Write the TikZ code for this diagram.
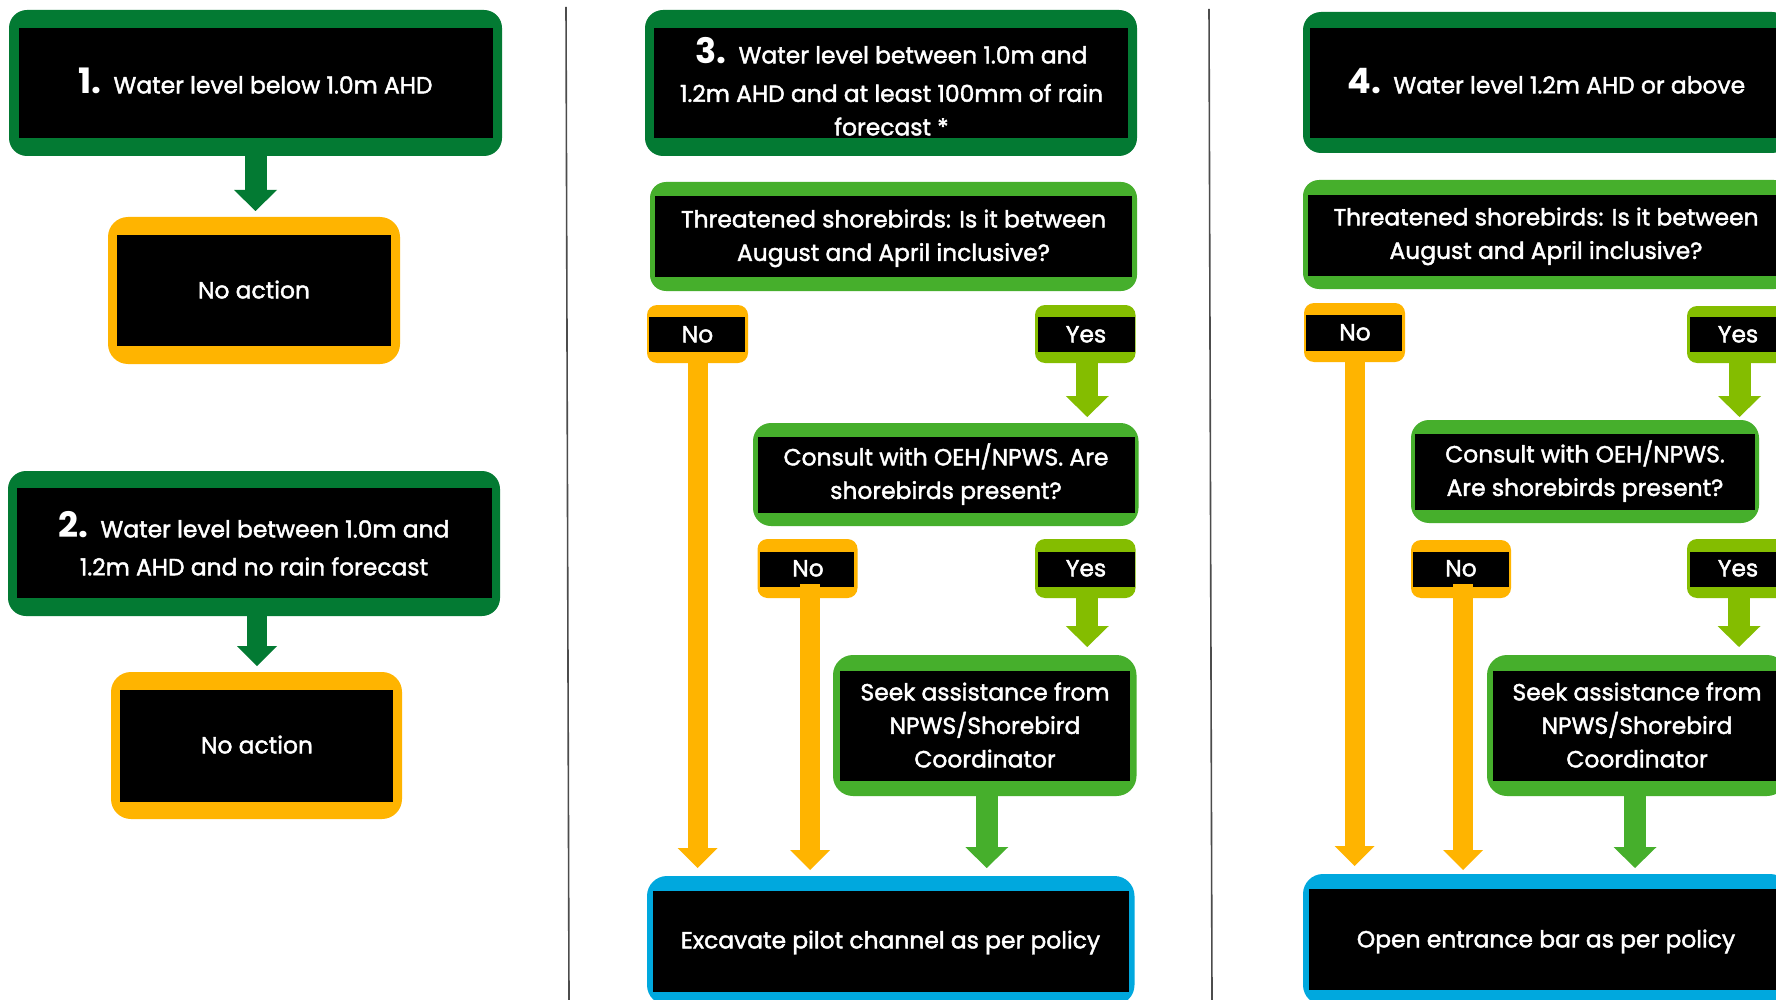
\documentclass[tikz,border=0pt]{standalone}
\usepackage{fontspec}
\setmainfont{Poppins}[UprightFeatures={FakeBold=1.8}]
\usetikzlibrary{arrows.meta,fit,calc}
\definecolor{dkgreen}{HTML}{037A33}
\definecolor{ltgreen}{HTML}{46AF2C}
\definecolor{yesgreen}{HTML}{84BD00}
\definecolor{noorange}{HTML}{FFB400}
\definecolor{endblue}{HTML}{00A8DE}
\newcommand\fl{\rule{0pt}{14pt}}
\newcommand\stepno[1]{{\fontsize{17.5pt}{17.5pt}\selectfont\bfseries #1}\hspace{6pt}}
\newcommand\cbox[5]{%
  \node[frame, fill=#2, rounded corners=#5, fit={#3}] (#1) {};
  \node[inbox, fit={#4}] (#1i) {};
}
\tikzset{
  frame/.style={inner sep=0pt, outer sep=0pt, draw=none},
  inbox/.style={inner sep=0pt, outer sep=0pt, draw=none, fill=black},
  txt/.style={anchor=north, text=white, inner sep=0pt, align=center,
    font=\fontsize{11.7pt}{16.75pt}\selectfont},
  flow/.style={draw=#1, line width=11pt,
    -{Triangle[length=10.5pt,width=21.5pt,line width=0pt]}},
  thinflow/.style={draw=#1, line width=10pt,
    -{Triangle[length=10pt,width=20pt,line width=0pt]}},
  divider/.style={draw=black!70, line width=0.8pt}
}
\begin{document}
\begin{tikzpicture}[x=0.5pt,y=-0.5pt]
\useasboundingbox (0,0) rectangle (1776,1000);
\clip (0,0) rectangle (1776,1000);
\fill[white] (0,0) rectangle (1776,1000);

% dividers
\draw[divider] (566,7) -- (569,1000);
\draw[divider] (1209,9) -- (1212,1000);

% ---------- column 1 ----------
\cbox{s1}{dkgreen}{(9,10) (502,156)}{(19,28) (493,138)}{9pt}
\node[txt] (s1t) at (255.5,65) {\fl\stepno{1.}Water level below 1.0m AHD};
\cbox{na1}{noorange}{(108,217) (400,364)}{(117,235) (391,346)}{10pt}
\node[txt] (na1t) at (254,270) {\fl No action};

\cbox{s2}{dkgreen}{(8,471) (500,616)}{(17,488) (492,598)}{9pt}
\node[txt] (s2t) at (254,509) {\fl\stepno{2.}Water level between 1.0m and\\[2.2pt]1.2m AHD and no rain forecast};
\cbox{na2}{noorange}{(111,672) (402,819)}{(120,690) (393,802)}{10pt}
\node[txt] (na2t) at (257,725) {\fl No action};

\draw[flow=dkgreen] (s1.south) -- ($(s1.south |- na1.north)+(0,-6)$);
\draw[thinflow=dkgreen] ($(s2.south)+(3,0)$) -- ($(s2.south |- na2.north)+(3,-6)$);

% ---------- column 2 ----------
\cbox{s3}{dkgreen}{(645,10) (1137,156)}{(654,28) (1128,138)}{9pt}
\node[txt] (s3t) at (891.5,35) {\fl\stepno{3.}Water level between 1.0m and\\[2.5pt]1.2m AHD and at least 100mm of rain\\forecast *};
\cbox{q3}{ltgreen}{(650,182) (1137,291)}{(655,196) (1132,277)}{8pt}
\node[txt] (q3t) at (893.5,199) {\fl Threatened shorebirds: Is it between\\August and April inclusive?};
\cbox{n3a}{noorange}{(647,305) (748,363)}{(649,317) (745,352)}{5pt}
\node[txt] (n3at) at (697.5,314) {\fl No};
\cbox{y3a}{yesgreen}{(1035,305) (1135.5,363)}{(1037.5,317) (1134.5,352)}{5pt}
\node[txt] (y3at) at (1086,314) {\fl Yes};
\cbox{c3}{ltgreen}{(753,423) (1138.5,526)}{(757.5,437) (1134.5,513)}{9pt}
\node[txt] (c3t) at (946,437) {\fl Consult with OEH/NPWS. Are\\shorebirds present?};
\cbox{n3b}{noorange}{(757.5,539) (857.5,598)}{(759.5,552) (853.5,587)}{5pt}
\node[txt] (n3bt) at (808,548) {\fl No};
\cbox{y3b}{yesgreen}{(1035,539) (1135.5,598)}{(1037.5,552) (1134.5,587)}{5pt}
\node[txt] (y3bt) at (1086,548) {\fl Yes};
\cbox{k3}{ltgreen}{(833,655) (1136.5,796)}{(840,671) (1129.5,781)}{10pt}
\node[txt] (k3t) at (985,672) {\fl Seek assistance from\\NPWS/Shorebird\\Coordinator};
\cbox{e3}{endblue}{(647,876) (1134.5,1005)}{(653,891) (1128.5,992)}{10pt}
\node[txt] (e3t) at (890.5,920) {\fl Excavate pilot channel as per policy};

\draw[flow=yesgreen] ($(y3a.south)+(2,0)$) -- ($(y3a.south |- c3.north)+(2,-6)$);
\draw[flow=yesgreen] ($(y3b.south)+(2,0)$) -- ($(y3b.south |- k3.north)+(2,-8)$);
\draw[thinflow=noorange] (n3a.south) -- ($(n3a.south |- e3.north)+(0,-8)$);
\draw[thinflow=noorange] ($(n3bi.south)+(3.5,-3)$) -- ($(n3bi.south |- e3.north)+(3.5,-6)$);
\draw[flow=ltgreen] ($(k3.south)+(2,0)$) -- ($(k3.south |- e3.north)+(2,-8)$);

% ---------- column 3 ----------
\cbox{s4}{dkgreen}{(1303,12) (1790,153)}{(1310,28) (1781,138)}{9pt}
\node[txt] (s4t) at (1546.5,65) {\fl\stepno{4.}Water level 1.2m AHD or above};
\cbox{q4}{ltgreen}{(1303,180) (1790,289)}{(1308,195) (1785,276)}{8pt}
\node[txt] (q4t) at (1546,197) {\fl Threatened shorebirds: Is it between\\August and April inclusive?};
\cbox{n4a}{noorange}{(1304,303) (1405,362)}{(1306,315) (1402,351)}{5pt}
\node[txt] (n4at) at (1355,312) {\fl No};
\cbox{y4a}{yesgreen}{(1687,306) (1789,363)}{(1690,317) (1786,352)}{5pt}
\node[txt] (y4at) at (1738,314) {\fl Yes};
\cbox{c4}{ltgreen}{(1411,420) (1759,523)}{(1415,434) (1755,510)}{9pt}
\node[txt] (c4t) at (1585,434) {\fl Consult with OEH/NPWS.\\Are shorebirds present?};
\cbox{n4b}{noorange}{(1411,540) (1511,598)}{(1413,552) (1509,587)}{5pt}
\node[txt] (n4bt) at (1461,548) {\fl No};
\cbox{y4b}{yesgreen}{(1687,539) (1789,598)}{(1690,552) (1786,587)}{5pt}
\node[txt] (y4bt) at (1738,548) {\fl Yes};
\cbox{k4}{ltgreen}{(1487,655) (1787,796)}{(1493,671) (1781,781)}{10pt}
\node[txt] (k4t) at (1637,672) {\fl Seek assistance from\\NPWS/Shorebird\\Coordinator};
\cbox{e4}{endblue}{(1303,874) (1790,1005)}{(1309,889) (1784,990)}{10pt}
\node[txt] (e4t) at (1546,919) {\fl Open entrance bar as per policy};

\draw[flow=yesgreen] ($(y4a.south)+(1.5,0)$) -- ($(y4a.south |- c4.north)+(1.5,-3)$);
\draw[flow=yesgreen] ($(y4b.south)+(1,0)$) -- ($(y4b.south |- k4.north)+(1,-8)$);
\draw[thinflow=noorange] (n4a.south) -- ($(n4a.south |- e4.north)+(0,-8)$);
\draw[thinflow=noorange] ($(n4bi.south)+(2,-3)$) -- ($(n4bi.south |- e4.north)+(2,-4)$);
\draw[flow=ltgreen] ($(k4.south)+(-2,0)$) -- ($(k4.south |- e4.north)+(-2,-6)$);
\end{tikzpicture}
\end{document}
